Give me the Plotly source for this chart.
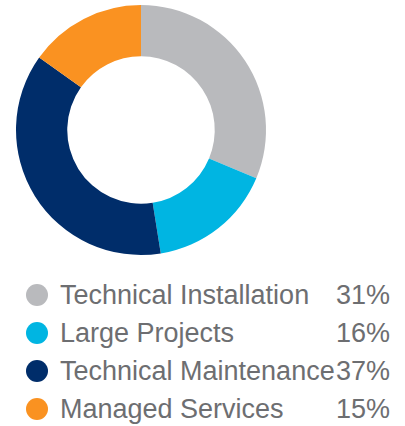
import plotly.graph_objects as go

categories = ["Technical Installation", "Large Projects", "Technical Maintenance", "Managed Services"]
values = [31, 16, 37, 15]
pct_labels = ["31%", "16%", "37%", "15%"]
colors = ["#b9babd", "#00b5e2", "#002d6a", "#fa9221"]

W, H = 405, 426
fig = go.Figure()
fig.add_trace(go.Pie(
    labels=categories, values=values, sort=False, direction="clockwise", rotation=0,
    hole=0.59, marker=dict(colors=colors, line=dict(width=0)), textinfo="none",
    hoverinfo="label+percent", showlegend=False,
    domain=dict(x=[(141-125)/W, (141+125)/W], y=[1-(130+125)/H, 1-(130-125)/H]),
))

row_y = [295, 333, 371, 409]
fig.add_trace(go.Scatter(
    x=[37]*len(categories), y=row_y, mode="markers",
    marker=dict(size=22, color=colors), showlegend=False, hoverinfo="skip",
    xaxis="x", yaxis="y",
))
font = dict(family="Liberation Sans", size=27, color="#6d6e71")
for cat, p, y in zip(categories, pct_labels, row_y):
    fig.add_annotation(x=58, y=y, text=cat, showarrow=False, xanchor="left", yanchor="middle",
                       xref="x", yref="y", font=font)
    fig.add_annotation(x=392, y=y, text=p, showarrow=False, xanchor="right", yanchor="middle",
                       xref="x", yref="y", font=font)

fig.update_layout(
    width=W, height=H, margin=dict(l=0, r=0, t=0, b=0),
    paper_bgcolor="white", plot_bgcolor="rgba(0,0,0,0)",
    xaxis=dict(range=[0, W], visible=False, domain=[0, 1], fixedrange=True),
    yaxis=dict(range=[H, 0], visible=False, domain=[0, 1], fixedrange=True),
)
fig.write_html("out.html", config={"displayModeBar": False},
               post_script="document.body.style.margin='0';document.body.style.overflow='hidden';")
